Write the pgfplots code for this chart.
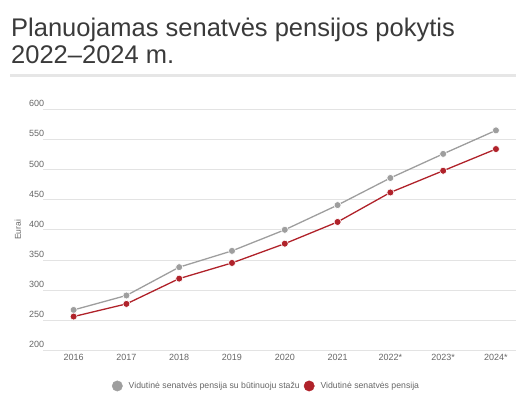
\documentclass[border=0pt]{standalone}
\usepackage{pgfplots}
\pgfplotsset{compat=1.18}
\usepackage{fontspec}
\setmainfont{Liberation Sans}
\definecolor{titlec}{HTML}{3A3A3A}
\definecolor{tickc}{HTML}{666666}
\definecolor{gridc}{HTML}{E3E3E3}
\definecolor{sepc}{HTML}{E6E6E6}
\definecolor{grayser}{HTML}{9E9E9E}
\definecolor{redser}{HTML}{B0222A}
\begin{document}
\begin{tikzpicture}[x=1pt,y=1pt]
\useasboundingbox (0,0) rectangle (516,404);
\node[anchor=base west, inner sep=0, text=titlec, font=\fontsize{25.5}{28}\selectfont] at (11,367) {Planuojamas senatvės pensijos pokytis};
\node[anchor=base west, inner sep=0, text=titlec, font=\fontsize{25.5}{28}\selectfont] at (11,340) {2022–2024 m.};
\fill[sepc] (10,326.5) rectangle (516,329.5);
\begin{axis}[
  at={(43pt,53.7pt)}, anchor=south west,
  scale only axis, width=473pt, height=241pt,
  xmin=-0.58, xmax=8.38, ymin=200, ymax=600,
  xtick={0,...,8},
  xticklabels={2016,2017,2018,2019,2020,2021,2022*,2023*,2024*},
  ytick={200,250,...,600},
  ymajorgrids, grid style={gridc, line width=0.8pt},
  axis line style={draw=none},
  major tick length=0pt,
  /pgf/number format/assume math mode=true,
  tick label style={font=\fontsize{9}{10}\selectfont, text=tickc},
  yticklabel style={anchor=base west, inner sep=0pt, xshift=-14pt, yshift=2.5pt},
  xticklabel style={anchor=north, inner sep=0pt, yshift=-4pt},
  ylabel={Eurai},
  ylabel style={at={(axis description cs:-0.053,0.5)}, anchor=center, font=\fontsize{8.5}{10}\selectfont, text=tickc},
  legend image code/.code={\fill[#1] (0pt,0pt) circle (5.2pt);},
  legend style={at={(axis description cs:0.4725,-0.148)}, anchor=center, draw=none, fill=none,
    font=\fontsize{8.7}{10}\selectfont, text=tickc, legend columns=2,
    /tikz/every odd column/.append style={column sep=4pt},
    /tikz/every even column/.append style={column sep=2pt}},
  legend cell align=left,
]
\addlegendimage{color=grayser}
\addlegendentry{Vidutinė senatvės pensija su būtinuoju stažu}
\addlegendimage{color=redser}
\addlegendentry{Vidutinė senatvės pensija}
\addplot[forget plot, grayser, line width=1.3pt, mark=*, mark size=3.5pt, mark options={draw=white, fill=grayser, line width=0.6pt}]
coordinates {(0,267) (1,291) (2,338) (3,365) (4,400) (5,441) (6,486) (7,526) (8,565)};
\addplot[forget plot, redser, line width=1.3pt, mark=*, mark size=3.5pt, mark options={draw=white, fill=redser, line width=0.6pt}]
coordinates {(0,256) (1,277) (2,319) (3,345) (4,377) (5,413) (6,462) (7,498) (8,534)};
\end{axis}
\end{tikzpicture}
\end{document}
